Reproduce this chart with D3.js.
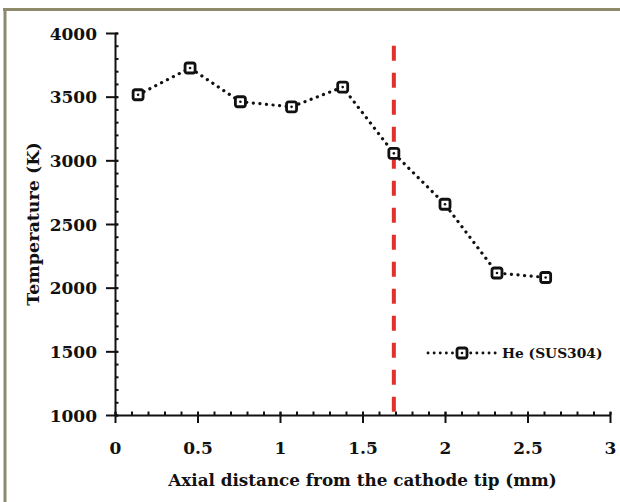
<!DOCTYPE html>
<html>
<head>
<meta charset="utf-8">
<script src="https://cdn.jsdelivr.net/npm/d3@7"></script>
<style>
  body { margin: 0; background: #fff; }
  svg text { font-family: "DejaVu Serif", serif; font-weight: bold; fill: #111; }
</style>
</head>
<body>
<div id="container"></div>
<script>
/* DATA */
const distance = [0.14, 0.455, 0.76, 1.07, 1.38, 1.69, 2.0, 2.315, 2.61];
const temperature = [3515, 3725, 3460, 3420, 3575, 3055, 2655, 2115, 2080];
const xTicks = [0, 0.5, 1, 1.5, 2, 2.5, 3];
const yTicks = [1000, 1500, 2000, 2500, 3000, 3500, 4000];
const markerLine = {x: 1.69, yFrom: 1000, yTo: 3900};
const seriesName = "He (SUS304)";

/* CONSTANTS */
const width = 620, height = 502;
const margin = {top: 33, right: 10, bottom: 87, left: 115};

const svg = d3.select("#container").append("svg")
  .attr("width", width).attr("height", height);

// frame (top + left)
svg.append("line").attr("x1", 3).attr("x2", width).attr("y1", 9.5).attr("y2", 9.5)
  .attr("stroke", "#8d8a6b").attr("stroke-width", 3);
svg.append("line").attr("x1", 5).attr("x2", 5).attr("y1", 8).attr("y2", height)
  .attr("stroke", "#8d8a6b").attr("stroke-width", 3);

/* SCALES */
const xScale = d3.scaleLinear().domain([0, 3]).range([margin.left, width - margin.right]);
const yScale = d3.scaleLinear().domain([1000, 4000]).range([height - margin.bottom, margin.top]);

const x0 = xScale(0), y0 = yScale(1000);

// minor ticks
svg.append("g").attr("transform", `translate(${x0},0)`)
  .call(d3.axisRight(yScale).tickValues(d3.range(1000, 4001, 100)).tickSize(3.5).tickFormat(""))
  .call(g => g.select(".domain").remove())
  .call(g => g.selectAll("line").attr("stroke", "#111").attr("stroke-width", 1.8));
svg.append("g").attr("transform", `translate(0,${y0})`)
  .call(d3.axisTop(xScale).tickValues(d3.range(0, 31).map(d => d / 10)).tickSize(3.5).tickFormat(""))
  .call(g => g.select(".domain").remove())
  .call(g => g.selectAll("line").attr("stroke", "#111").attr("stroke-width", 1.8));

/* AXES */
const yAxis = svg.append("g").attr("transform", `translate(${x0},0)`)
  .call(d3.axisLeft(yScale).tickValues(yTicks).tickSize(9).tickPadding(9).tickSizeOuter(0)
    .tickFormat(d3.format("d")));
yAxis.selectAll(".tick line").attr("x2", 3).attr("x1", -9);
yAxis.selectAll("text").style("font-size", "17px").attr("dy", "0.36em");

const xAxis = svg.append("g").attr("transform", `translate(0,${y0})`)
  .call(d3.axisBottom(xScale).tickValues(xTicks).tickSize(8).tickPadding(19).tickSizeOuter(0)
    .tickFormat(d3.format("")));
xAxis.selectAll(".tick line").attr("y1", -3).attr("y2", 8);
xAxis.selectAll("text").style("font-size", "17px");

svg.selectAll(".domain, .tick line").attr("stroke", "#111").attr("stroke-width", 2);

// axis titles
svg.append("text")
  .attr("x", (x0 + xScale(3)) / 2).attr("y", 486)
  .attr("text-anchor", "middle").style("font-size", "16.8px")
  .text("Axial distance from the cathode tip (mm)");
svg.append("text")
  .attr("transform", `translate(39,${(yScale(4000) + y0) / 2}) rotate(-90)`)
  .attr("text-anchor", "middle").style("font-size", "17.5px")
  .text("Temperature (K)");

// red dashed marker line
svg.append("line")
  .attr("x1", xScale(markerLine.x)).attr("x2", xScale(markerLine.x))
  .attr("y1", yScale(markerLine.yTo)).attr("y2", yScale(markerLine.yFrom))
  .attr("stroke", "#e0322b").attr("stroke-width", 4)
  .attr("stroke-dasharray", "15 12");

// series line
const line = d3.line().x(d => xScale(d[0])).y(d => yScale(d[1]));
const pts = distance.map((d, i) => [d, temperature[i]]);
svg.append("path").datum(pts)
  .attr("d", line).attr("fill", "none")
  .attr("stroke", "#111").attr("stroke-width", 3.2)
  .attr("stroke-linecap", "round").attr("stroke-dasharray", "0.1 6.5");

function marker(sel) {
  sel.append("rect").attr("x", -5).attr("y", -5).attr("width", 10).attr("height", 10)
    .attr("rx", 2).attr("fill", "#fff").attr("stroke", "#111").attr("stroke-width", 2.8);
  sel.append("circle").attr("r", 1.3).attr("fill", "#111");
}

svg.selectAll("g.pt").data(pts).join("g").attr("class", "pt")
  .attr("transform", d => `translate(${xScale(d[0])},${yScale(d[1])})`)
  .call(marker);

// legend
const leg = svg.append("g").attr("transform", "translate(428,353)");
leg.append("line").attr("x1", 0).attr("x2", 68).attr("stroke", "#111")
  .attr("stroke-width", 2.8).attr("stroke-linecap", "round").attr("stroke-dasharray", "0.1 6");
leg.append("g").attr("transform", "translate(34,0)").call(marker);
leg.append("text").attr("x", 74).attr("dy", "0.35em").style("font-size", "13.8px").text(seriesName);
</script>
</body>
</html>
